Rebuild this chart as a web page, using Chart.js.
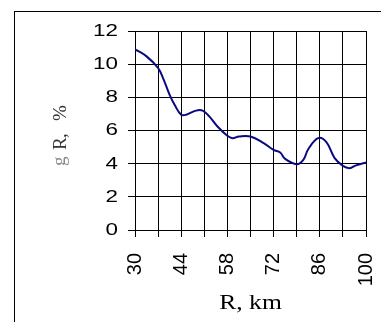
<!DOCTYPE html>
<html>
<head>
<meta charset="utf-8">
<script src="https://cdn.jsdelivr.net/npm/chart.js@4/dist/chart.umd.min.js"></script>
<style>
  html, body { margin: 0; padding: 0; background: #fff; overflow: hidden; }
  #wrap { position: relative; width: 381px; height: 322px; }
  #frame { position: absolute; left: 14px; top: 11px; width: 420px; height: 400px;
           border-left: 1.5px solid #000; border-top: 1px solid #000; }
  canvas { position: absolute; left: 0; top: 0; }
</style>
</head>
<body>
<div id="wrap">
  <div id="frame"></div>
  <canvas id="c" width="381" height="322"></canvas>
</div>
<script>
// Distance R, km
const rKm = [30, 33.5, 37, 38.5, 40.5, 42, 44, 45.5, 48.5, 50.5, 52.5, 55, 58, 59.5, 61.5, 65, 69, 72, 74, 75.5, 79, 81, 82.5, 85.5, 88, 90.5, 93, 95, 97, 100];
// gR, %
const gR = [10.9, 10.47, 9.77, 9.16, 8.15, 7.55, 6.95, 6.95, 7.2, 7.2, 6.85, 6.24, 5.68, 5.54, 5.64, 5.64, 5.24, 4.83, 4.67, 4.29, 3.97, 4.23, 4.87, 5.54, 5.3, 4.33, 3.87, 3.73, 3.9, 4.07];
// Tick labels
const xTickLabels = [30, 44, 58, 72, 86, 100];
const yTickLabels = [0, 2, 4, 6, 8, 10, 12];
const xTitle = 'R, km';
const yTitleParts = ['g', 'R', ',', '%'];

const points = rKm.map((r, i) => ({ x: r, y: gR[i] }));

const textPlugin = {
  id: 'textPlugin',
  afterDraw(chart) {
    const ctx = chart.ctx;
    const ys = chart.scales.y;
    ctx.save();
    ctx.fillStyle = '#000';
    ctx.font = '16px "Liberation Sans", Arial, sans-serif';
    ctx.textAlign = 'right';
    ctx.textBaseline = 'middle';
    yTickLabels.forEach(v => {
      const py = ys.getPixelForValue(v);
      ctx.save();
      ctx.translate(118, py + 0.5);
      ctx.scale(1.4, 1);
      ctx.fillText(String(v), 0, 0);
      ctx.restore();
    });
    ctx.restore();

    ctx.save();
    ctx.fillStyle = '#000';
    ctx.font = '20px "Liberation Serif", "Times New Roman", serif';
    ctx.textAlign = 'center';
    ctx.textBaseline = 'alphabetic';
    ctx.translate((chart.chartArea.left + chart.chartArea.right) / 2, 309);
    ctx.scale(1.28, 1);
    ctx.fillText(xTitle, 0, 0);
    ctx.restore();

    const drawV = (t, x, yb, color) => {
      ctx.save();
      ctx.fillStyle = color;
      ctx.font = '19px "Liberation Serif", "Times New Roman", serif';
      ctx.textAlign = 'left';
      ctx.textBaseline = 'alphabetic';
      ctx.translate(x, yb);
      ctx.rotate(-Math.PI / 2);
      ctx.fillText(t, 0, 0);
      ctx.restore();
    };
    drawV(yTitleParts[0], 65, 166, '#8a8a8a');
    drawV(yTitleParts[1], 66, 150, '#333');
    drawV(yTitleParts[2], 66, 138, '#333');
    drawV(yTitleParts[3], 66, 121, '#333');
  }
};

new Chart(document.getElementById('c'), {
  type: 'line',
  data: {
    datasets: [{
      data: points,
      borderColor: '#0a0a80',
      borderWidth: 2,
      pointRadius: 0,
      tension: 0.4,
      fill: false
    }]
  },
  options: {
    responsive: false,
    animation: false,
    devicePixelRatio: 1,
    layout: { padding: { left: 0, top: 31, right: 15, bottom: 0 } },
    plugins: { legend: { display: false }, tooltip: { enabled: false } },
    scales: {
      x: {
        type: 'linear',
        min: 30, max: 100,
        afterFit(s) { s.height = 92; s.paddingLeft = 0; s.paddingRight = 0; },
        afterBuildTicks(s) {
          const t = [];
          for (let v = 30; v <= 100; v += 7) t.push({ value: v });
          s.ticks = t;
        },
        grid: { color: '#000', lineWidth: 1, tickLength: 7, drawTicks: true },
        border: { color: '#000', width: 1 },
        ticks: {
          color: '#000',
          font: { family: '"Liberation Sans", Arial, sans-serif', size: 20 },
          minRotation: 90, maxRotation: 90,
          padding: 16,
          autoSkip: false,
          callback: (v) => xTickLabels.includes(v) ? String(v) : ''
        }
      },
      y: {
        type: 'linear',
        min: 0, max: 12,
        afterFit(s) { s.width = 135; s.paddingTop = 0; s.paddingBottom = 0; },
        grid: { color: '#000', lineWidth: 1, tickLength: 7, drawTicks: true },
        border: { color: '#000', width: 1 },
        ticks: {
          stepSize: 2,
          display: false
        }
      }
    }
  },
  plugins: [textPlugin]
});
</script>
</body>
</html>
